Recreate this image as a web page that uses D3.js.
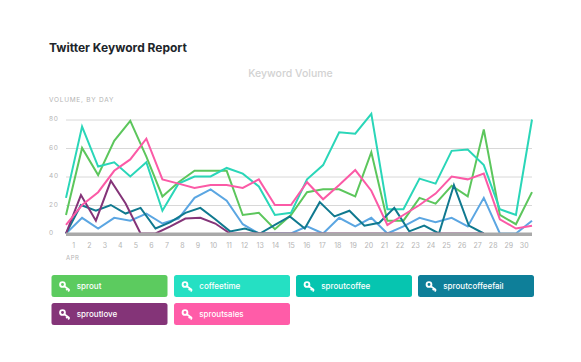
<!DOCTYPE html>
<html>
<head>
<meta charset="utf-8">
<script src="https://cdn.jsdelivr.net/npm/d3@7"></script>
<style>
  body { margin: 0; background: #fff; }
  text { font-family: Inter, "Open Sans", sans-serif; }
</style>
</head>
<body>
<svg id="drawing_region"></svg>
<script>
const days = d3.range(1, 31)
// sproutcoffeefail and sproutlove sit on a tighter spacing than the others in the picture
const tightDays = [1,1.93,2.86,3.79,4.71,5.64,6.57,7.5,8.43,9.36,10.29,11.21,12.14,13.07,14,14.93,15.86,16.79,17.71,18.64,19.57,20.5,21.43,22.36,23.29,24.21,25.14,26.07,27]

const sprout = [13,60,41,65,79,54,26,36,44,44,44,13,14.5,3,13,29,31,31,26,57,9,9,25,21,33.5,26,73,13,6.5,29]
const coffeetime = [25,75,47,50,40,50,16,35,40,40,46,42,33,13,14.5,38,48,71,70,84,17,17,38.5,35,58,59,48,17,13,80]
const sproutcoffee = [0,11,3.5,11,9,14,7,10.5,25,31,23,6.5,0,0,0,5,0,11,5,11,0,5,11,8,11,5,25,0,0,9]
const sproutcoffeefail = [0,20,16,20,14,18,3.5,8,14.5,18,10,1.5,3.5,0,6,12,3.5,22,12,16,5.5,7.5,18,1.5,5.5,0,34,5.5,0]
const sproutlove = [0,27,9,37,21,0,0,5,10.5,11,7,0,0,0,0,0,0,0,0,0,0,0,0,0,0,0,0,0,0]
const sproutsales = [6,20,29,44,52,66.5,38,35,32,34,34,32,38,20,20,36,24,34,44.5,30,6,13,20,28,40,38,42,10,3.5,5.5]

const names = ['sprout','coffeetime','sproutcoffee','sproutcoffeefail','sproutlove','sproutsales']
const lineColors = ['#5cc65c','#2ad6b8','#5ba6e2','#10798f','#843478','#fb5aa6']
const keyColors = ['#5ccb5f','#25e0c3','#06c5b0','#0e7f99','#843478','#ff5ca8']
const yTicks = [0,20,40,60,80]

const series = [
    {values: sprout, x: days},
    {values: coffeetime, x: days},
    {values: sproutcoffee, x: days},
    {values: sproutcoffeefail, x: tightDays},
    {values: sproutlove, x: tightDays},
    {values: sproutsales, x: days}
]

const width = 581, height = 362
const margin = {top: 119.5, left: 66, right: 49, bottom: 128.5}
const inner_width = width - margin.left - margin.right
const inner_height = height - margin.top - margin.bottom

const svg = d3.select('#drawing_region')
    .attr('width', width)
    .attr('height', height)
    .style('display', 'block')

svg.append('text')
    .attr('x', 49).attr('y', 52)
    .attr('font-size', 12).attr('font-weight', 700)
    .attr('fill', '#20252a')
    .text('Twitter Keyword Report')

svg.append('text')
    .attr('x', 290.5).attr('y', 77)
    .attr('text-anchor', 'middle')
    .attr('font-size', 10.5).attr('font-weight', 500)
    .attr('fill', '#d2d2d2')
    .text('Keyword Volume')

svg.append('text')
    .attr('x', 49).attr('y', 101.5)
    .attr('font-size', 6.5)
    .attr('letter-spacing', 0.75)
    .attr('fill', '#b4b4b4')
    .text('VOLUME, BY DAY')

const chart = svg.append('g')
    .attr('transform', `translate(${margin.left},${margin.top})`)

const xscale = d3.scaleLinear().domain([1, 30]).range([0, inner_width])
const xband = d3.scaleBand().domain(days).range([0, inner_width])
const yscale = d3.scaleLinear().domain([0, 80]).range([inner_height, 0])

// gridlines, no domain path
const grid_group = chart.append('g')
    .call(d3.axisLeft(yscale).tickValues(yTicks.slice(1)).tickSize(-inner_width).tickFormat(''))
grid_group.select('.domain').remove()
grid_group.selectAll('line').attr('stroke', '#d8d8d8')

const ylabels = chart.append('g')
    .call(d3.axisLeft(yscale).tickValues(yTicks).tickSize(0).tickPadding(0))
ylabels.select('.domain').remove()
ylabels.selectAll('text')
    .attr('x', -17).attr('y', -1).attr('text-anchor', 'start')
    .attr('font-size', 6.5).attr('letter-spacing', 0.7)
    .style('font-family', 'Inter, sans-serif')
    .attr('fill', '#b4b4b4')

const line = d3.line()
    .x(d => xscale(d.x))
    .y(d => yscale(d.y))

chart.selectAll('path.series').data(series).enter()
    .append('path')
    .attr('class', 'series')
    .attr('d', s => line(s.values.map((v, i) => ({x: s.x[i], y: v}))))
    .attr('fill', 'none')
    .attr('stroke', (s, i) => lineColors[i])
    .attr('stroke-width', 2)
    .attr('stroke-linejoin', 'miter')

// thick grey baseline covers whatever runs along zero
chart.append('line')
    .attr('x1', 0).attr('x2', inner_width)
    .attr('y1', yscale(0) + 0.8).attr('y2', yscale(0) + 0.8)
    .attr('stroke', '#a9a9a9')
    .attr('stroke-width', 3.6)

const xaxis_group = chart.append('g')
    .attr('transform', `translate(0,${inner_height})`)
    .call(d3.axisBottom(xband).tickSize(0).tickPadding(10))
xaxis_group.select('.domain').remove()
xaxis_group.selectAll('text')
    .attr('font-size', 7)
    .style('font-family', 'Inter, sans-serif')
    .attr('fill', '#b4b4b4')

chart.append('text')
    .attr('x', 0).attr('y', inner_height + 26.5)
    .attr('font-size', 6)
    .attr('letter-spacing', 0.5)
    .attr('fill', '#b4b4b4')
    .text('APR')

// legend buttons
const cols = [51.5, 174, 296, 418]
const rows = [275, 303]
const legend = svg.selectAll('g.key').data(names).enter()
    .append('g')
    .attr('class', 'key')
    .attr('transform', (d, i) => `translate(${cols[i % 4]},${rows[Math.floor(i / 4)]})`)

legend.append('rect')
    .attr('width', 116).attr('height', 22).attr('rx', 2.5)
    .attr('fill', (d, i) => keyColors[i])

legend.append('circle')
    .attr('cx', 11).attr('cy', 9.5).attr('r', 2.4)
    .attr('fill', 'none').attr('stroke', '#fff').attr('stroke-width', 1.9)

legend.append('path')
    .attr('d', 'M12.8,11.2 L18,15 M16,13.5 L14.8,15.2 M17.8,14.8 L16.7,16.5')
    .attr('fill', 'none').attr('stroke', '#fff').attr('stroke-width', 1.7)

legend.append('text')
    .attr('x', 25.3).attr('y', 14)
    .attr('font-size', 8).attr('font-weight', 500)
    .attr('fill', '#fff')
    .text(d => d)
</script>
</body>
</html>
